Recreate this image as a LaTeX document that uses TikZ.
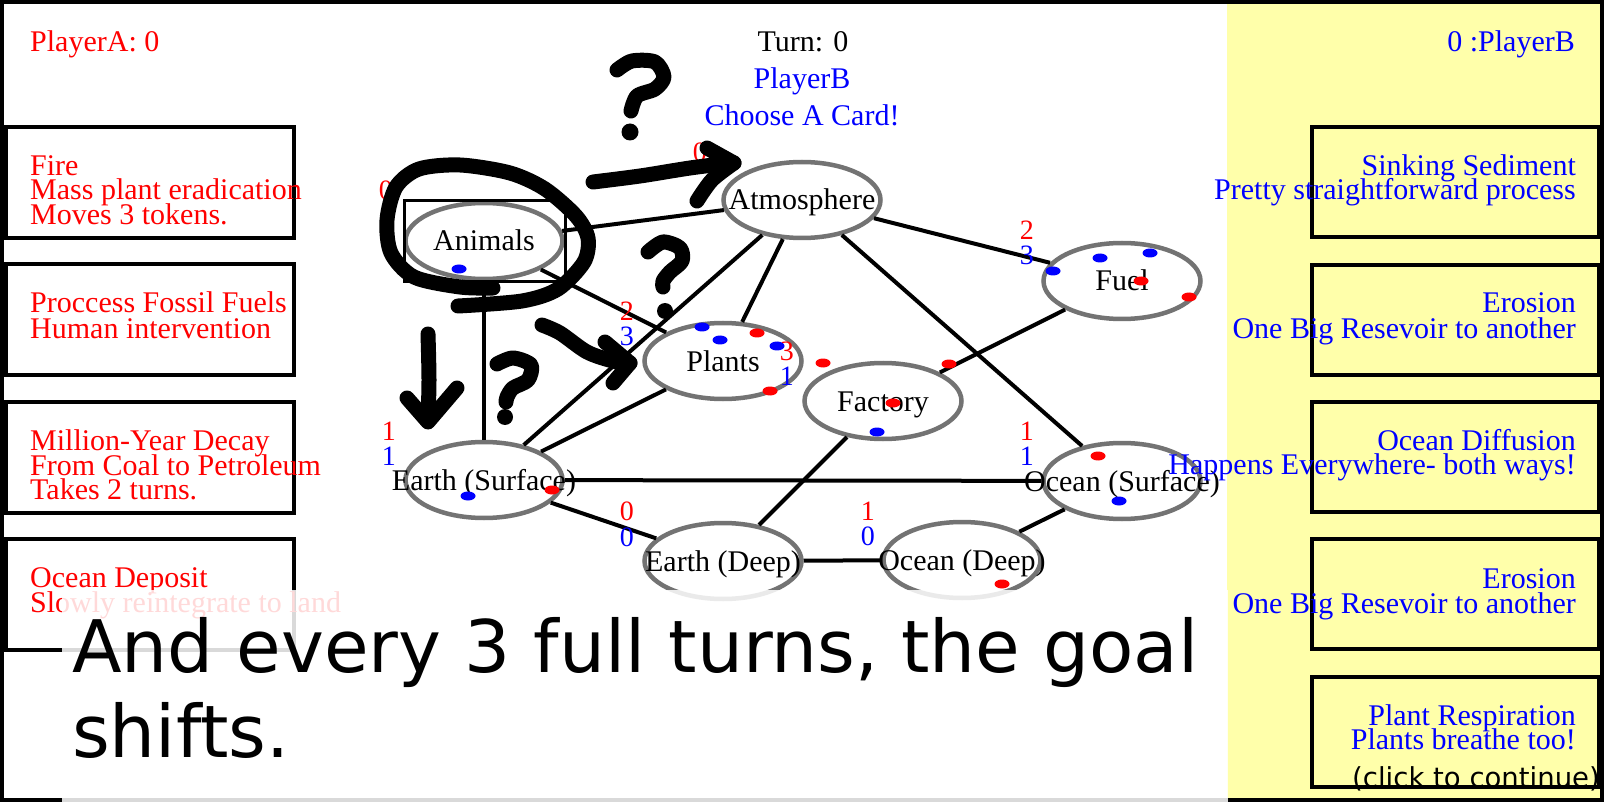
\documentclass[tikz,border=0pt]{standalone}
\usepackage{fontspec}
\setmainfont{Liberation Serif}
\newfontfamily\djv{DejaVu Sans}
\usetikzlibrary{shapes.geometric}
\definecolor{panelyellow}{RGB}{255,255,170}
\begin{document}
\begin{tikzpicture}[x=1pt,y=-1pt,
  resv/.style={ellipse, draw=black!55, line width=4.5pt, fill=white, minimum width=157pt, minimum height=76pt, inner sep=0pt},
  lbl/.style={font=\fontsize{30}{24}\selectfont, text height=20pt, text depth=0pt, inner sep=0pt},
  txt/.style={font=\fontsize{30}{24}\selectfont, inner sep=0pt},
  ltxt/.style={txt, red, anchor=base west},
  rtxt/.style={txt, blue, anchor=base east},
  num/.style={font=\fontsize{28}{24}\selectfont, inner sep=0pt, anchor=base east},
  link/.style={line width=4pt},
  scrib/.style={line width=15pt, line cap=round, line join=round},
  card/.style={draw=black, line width=4.5pt},
  tok/.style={x radius=7.5pt, y radius=4.5pt}
]
\useasboundingbox (0,0) rectangle (1604,802);
\fill[white] (0,0) rectangle (1604,802);
\fill[panelyellow] (1227,2) rectangle (1602,800);
\draw[line width=4pt] (2,2) rectangle (1602,800);

% left cards
\foreach \yy in {127,264,402,539} \draw[card] (6,\yy) rectangle (294,\yy+111);
% right cards
\foreach \yy in {127,265,402,539,677} \draw[card, fill=panelyellow] (1312,\yy) rectangle (1599,\yy+110);

% reservoirs
\node[resv] (anim) at (484,241) {};
\node[resv] (atm) at (802,200) {};
\node[resv] (fuel) at (1122,281) {};
\node[resv] (plants) at (723,361) {};
\node[resv] (fact) at (883,401) {};
\node[resv] (earthS) at (484,480) {};
\node[resv] (oceanS) at (1122,481) {};
\node[resv] (earthD) at (723,561) {};
\node[resv] (oceanD) at (962,560) {};

% connectors
\draw[link] (anim) -- (atm);
\draw[link] (anim) -- (plants);
\draw[link] (anim) -- (earthS);
\draw[link] (atm) -- (plants);
\draw[link] (atm) -- (earthS);
\draw[link] (atm) -- (fuel);
\draw[link] (atm) -- (oceanS);
\draw[link] (plants) -- (earthS);
\draw[link] (fuel) -- (fact);
\draw[link] (fact) -- (earthD);
\draw[link] (earthS) -- (oceanS);
\draw[link] (earthS) -- (earthD);
\draw[link] (earthD) -- (oceanD);
\draw[link] (oceanD) -- (oceanS);

% labels
\node[lbl] (anim-t) at (anim) {Animals};
\node[lbl] (atm-t) at (atm) {Atmosphere};
\node[lbl] (fuel-t) at (fuel) {Fuel};
\node[lbl] (plants-t) at (plants) {Plants};
\node[lbl] (fact-t) at (fact) {Factory};
\node[lbl] (earthS-t) at (earthS) {Earth (Surface)};
\node[lbl] (oceanS-t) at (oceanS) {Ocean (Surface)};
\node[lbl] (earthD-t) at (earthD) {Earth (Deep)};
\node[lbl] (oceanD-t) at (oceanD) {Ocean (Deep)};

\draw[line width=3pt] (404,201) rectangle (565,282);

% counts
\node[num, red] (n1) at (393,200) {0};
\node[num, red] (n2) at (707,162) {0};
\node[num, red] (n3) at (634,320) {2};
\node[num, blue] (n4) at (634,345) {3};
\node[num, red] (n5) at (794,360) {3};
\node[num, blue] (n6) at (794,385) {1};
\node[num, red] (n7) at (1034,240) {2};
\node[num, blue] (n8) at (1034,265) {3};
\node[num, red] (n9) at (1034,440) {1};
\node[num, blue] (n10) at (1034,465) {1};
\node[num, red] (n11) at (396,440) {1};
\node[num, blue] (n12) at (396,465) {1};
\node[num, red] (n13) at (634,520) {0};
\node[num, blue] (n14) at (634,546) {0};
\node[num, red] (n15) at (875,520) {1};
\node[num, blue] (n16) at (875,545) {0};

% tokens
\foreach \p in {(459,269),(702,327),(720,340),(777,346),(1100,258),(1150,253),(1053,271),(877,432),(468,496),(1119,501)}
  \fill[blue] \p ellipse [tok];
\foreach \p in {(757,333),(770,391),(823,363),(949,364),(893,403),(1141,281),(1189,297),(552,490),(1098,456),(1002,584)}
  \fill[red] \p ellipse [tok];

% header
\node[ltxt] (pa) at (30,52) {PlayerA: 0};
\node[rtxt] (pb) at (1575,52) {0 :PlayerB};
\node[txt, anchor=base] (turn) at (803,52) {Turn: 0};
\node[txt, blue, anchor=base] (who) at (802,89) {PlayerB};
\node[txt, blue, anchor=base] (choose) at (802,126) {Choose A Card!};

% left card texts
\node[ltxt] (c1a) at (30,176) {Fire};
\node[ltxt] (c1b) at (30,200) {Mass plant eradication};
\node[ltxt] (c1c) at (30,225) {Moves 3 tokens.};
\node[ltxt] (c2a) at (30,313) {Proccess Fossil Fuels};
\node[ltxt] (c2b) at (30,338) {Human intervention};
\node[ltxt] (c3a) at (30,450) {Million-Year Decay};
\node[ltxt] (c3b) at (30,475) {From Coal to Petroleum};
\node[ltxt] (c3c) at (30,499) {Takes 2 turns.};
\node[ltxt] (c4a) at (30,587) {Ocean Deposit};
\node[ltxt] (c4b) at (30,612) {Slowly reintegrate to land};

% right card texts
\node[rtxt] (d1a) at (1576,176) {Sinking Sediment};
\node[rtxt] (d1b) at (1576,200) {Pretty straightforward process};
\node[rtxt] (d2a) at (1576,313) {Erosion};
\node[rtxt] (d2b) at (1576,338) {One Big Resevoir to another};
\node[rtxt] (d3a) at (1576,450) {Ocean Diffusion};
\node[rtxt] (d3b) at (1576,474) {Happens Everywhere- both ways!};
\node[rtxt] (d4a) at (1576,588) {Erosion};
\node[rtxt] (d4b) at (1576,613) {One Big Resevoir to another};
\node[rtxt] (d5a) at (1576,725) {Plant Respiration};
\node[rtxt] (d5b) at (1576,749) {Plants breathe too!};

% scribbles
\draw[scrib] plot[smooth] coordinates {(617,70) (632,61) (655,62) (664,77) (655,89) (637,96) (631,111)};
\fill (630,132) circle (8.5pt);
\draw[scrib] plot[smooth] coordinates {(593,182) (640,176) (690,168) (730,163)};
\draw[scrib] plot[smooth] coordinates {(707,148) (734,163)};
\draw[scrib] plot[smooth] coordinates {(734,163) (712,180) (697,201)};
\draw[scrib] plot[smooth] coordinates {(493,288) (460,287) (414,277) (391,253) (387,220) (396,187) (419,169) (460,165) (510,173) (545,189) (576,216) (588,238) (584,262) (558,289) (522,301) (458,306)};
\draw[scrib] plot[smooth] coordinates {(648,252) (663,242) (680,248) (682,261) (670,272) (663,281) (663,287)};
\fill (665,311) circle (8pt);
\draw[scrib] plot[smooth] coordinates {(428,334) (429,380) (428,421)};
\draw[scrib] (407,398) -- (428,422) -- (457,388);
\draw[scrib] plot[smooth] coordinates {(497,364) (513,358) (531,365) (528,380) (513,388) (507,397) (506,402)};
\fill (505,417) circle (8pt);
\draw[scrib] plot[smooth] coordinates {(542,325) (560,333) (587,352) (613,361) (630,363)};
\draw[scrib] (605,342) -- (630,363) -- (613,383);

% overlay
\fill[white, opacity=0.85] (62,590) rectangle (1228,802);
\node[font=\djv\fontsize{72.5}{85}\selectfont, anchor=base west, inner sep=0pt] (msg1) at (72,672) {And every 3 full turns, the goal};
\node[font=\djv\fontsize{72.5}{85}\selectfont, anchor=base west, inner sep=0pt] (msg2) at (72,757) {shifts.};
\node[font=\djv\fontsize{27.5}{30}\selectfont, anchor=base east, inner sep=0pt] (cont) at (1600,787) {(click to continue)};
\end{tikzpicture}
\end{document}
